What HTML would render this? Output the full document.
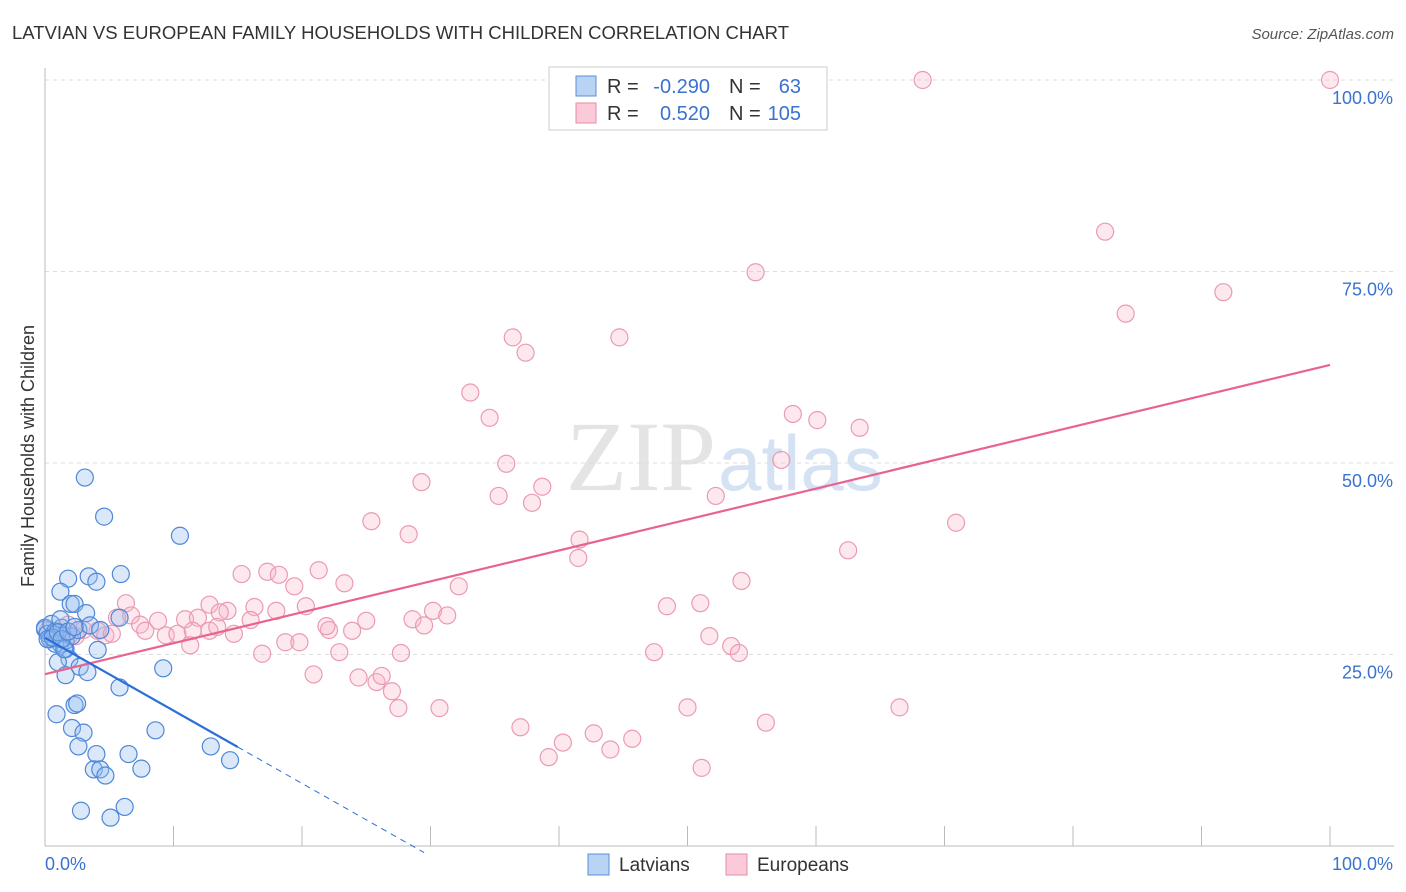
<!DOCTYPE html>
<html><head><meta charset="utf-8"><style>
body{margin:0;background:#fff;font-family:"Liberation Sans",sans-serif;}
svg{display:block}
</style></head><body>
<svg id="chart" width="1406" height="892">
<text x="12" y="39" font-size="18.5" fill="#333" textLength="777">LATVIAN VS EUROPEAN FAMILY HOUSEHOLDS WITH CHILDREN CORRELATION CHART</text>
<text x="1394" y="39" font-size="15" fill="#555" font-style="italic" text-anchor="end">Source: ZipAtlas.com</text>
<text x="716" y="490" font-size="100" fill="#e4e4e4" text-anchor="end" font-family="Liberation Serif">ZIP</text>
<text x="718" y="490" font-size="78" fill="#d4e2f4">atlas</text>
<g id="grid"></g>
<g id="axes"></g>
<g id="pts"></g>
<g id="lines"></g>
<text transform="translate(34,456) rotate(-90)" font-size="18" fill="#333" text-anchor="middle">Family Households with Children</text>
<g>
<rect x="549" y="67" width="278" height="63" fill="#fff" stroke="#ccc"/>
<rect x="576" y="76" width="20" height="20" fill="#b9d3f5" stroke="#5b8fd9"/>
<rect x="576" y="103" width="20" height="20" fill="#fbcad8" stroke="#e98aa8"/>
<text x="607" y="93" font-size="20" fill="#333">R =</text>
<text x="710" y="93" font-size="20" fill="#3a72d0" text-anchor="end">-0.290</text>
<text x="729" y="93" font-size="20" fill="#333">N =</text>
<text x="801" y="93" font-size="20" fill="#3a72d0" text-anchor="end">63</text>
<text x="607" y="120" font-size="20" fill="#333">R =</text>
<text x="710" y="120" font-size="20" fill="#3a72d0" text-anchor="end">0.520</text>
<text x="729" y="120" font-size="20" fill="#333">N =</text>
<text x="801" y="120" font-size="20" fill="#3a72d0" text-anchor="end">105</text>
</g>
<g>
<rect x="588" y="854" width="21" height="21" fill="#b9d3f5" stroke="#5b8fd9"/>
<text x="619" y="871" font-size="19" fill="#333">Latvians</text>
<rect x="726" y="854" width="21" height="21" fill="#fbcad8" stroke="#e98aa8"/>
<text x="757" y="871" font-size="19" fill="#333">Europeans</text>
</g>
</svg>
<script>
const yTicks=[25,50,75,100];
const xTickLabels=["0.0%","100.0%"];
const latX=[3.1,4.6,10.5,1.8,3.4,4.0,5.9,1.2,2.0,2.3,3.2,5.8,0,0.4,0.8,1.2,1.6,4.1,1.9,1.0,2.7,3.3,1.6,9.2,5.8,0.9,2.3,2.5,2.1,3.0,8.6,2.6,4.0,6.5,12.9,14.4,3.8,4.3,4.7,7.5,2.8,6.2,5.1,0,0.2,0.5,0.8,1.3,1.6,2.1,2.6,1.2,0.4,0.8,1.5,3.5,4.3,0.2,0.6,1.0,1.3,1.8,2.3];
const latY=[48.1,43,40.5,34.9,35.2,34.5,35.5,33.2,31.6,31.6,30.4,29.8,28.3,27,27.7,26.4,25.7,25.6,24.4,24,23.4,22.7,22.3,23.2,20.7,17.2,18.4,18.6,15.4,14.8,15.1,13,12,12,13,11.2,10,10,9.2,10.1,4.6,5.1,3.7,28.5,27.7,29,28,28.5,26.8,27.4,28.2,29.6,27,26.4,25.7,28.8,28.2,27,27.2,27.9,27,28,28.6];
const eurX=[68.3,100,82.5,55.3,91.7,84.1,36.4,44.7,37.4,33.1,34.6,35.9,29.3,38.7,35.3,37.9,52.2,57.3,58.2,60.1,63.4,25.4,28.3,41.6,41.5,70.9,62.5,15.3,17.3,18.2,21.3,23.3,19.4,32.2,54.2,12.8,14.2,18,16.3,30.2,31.3,28.6,29.5,48.4,51,6.3,6.7,5.6,8.8,10.9,11.9,13.6,16,20.3,22.1,25,21.9,23.9,7.4,7.8,9.4,10.3,11.5,12.8,13.4,14.7,4.1,4.7,5.2,3,2.4,1.9,1.2,0.6,0.2,1.8,11.3,18.7,19.8,51.7,53.4,54,47.4,16.9,22.9,27.7,20.9,24.4,25.8,26.2,27,27.5,30.7,50,66.5,56.1,37,42.7,45.7,40.3,44,39.2,51.1];
const eurY=[100,100,80.2,74.9,72.3,69.5,66.4,66.4,64.4,59.2,55.9,49.9,47.5,46.9,45.7,44.8,45.7,50.4,56.4,55.6,54.6,42.4,40.7,40,37.6,42.2,38.6,35.5,35.8,35.4,36,34.3,33.9,33.9,34.6,31.5,30.7,30.7,31.2,30.7,30.1,29.6,28.8,31.3,31.7,31.7,30.1,29.8,29.4,29.6,29.8,30.5,29.5,31.3,28.2,29.4,28.7,28.1,28.9,28.1,27.5,27.7,28.1,28.1,28.6,27.7,28.1,27.5,27.7,28.2,27.4,27.5,27.9,27.2,28.1,28.9,26.2,26.6,26.6,27.4,26.1,25.2,25.3,25.1,25.3,25.2,22.4,22,21.4,22.2,20.2,18,18,18.1,18.1,16.1,15.5,14.7,14,13.5,12.6,11.6,10.2];
const W0=45,W1=1330,H0=846,H1=80;
const sx=v=>W0+(W1-W0)*v/100, sy=v=>H0-(H0-H1)*v/100;
const NS="http://www.w3.org/2000/svg";
function mk(p,t,a){const e=document.createElementNS(NS,t);for(const k in a)e.setAttribute(k,a[k]);document.getElementById(p).appendChild(e);return e;}
for(const t of yTicks){
 const g=mk('grid','line',{x1:W0,x2:1394,y1:sy(t),y2:sy(t),stroke:'#ddd','stroke-dasharray':'4,4'});
 
 
 const l=mk('axes','text',{x:1393,y:sy(t)+24,'font-size':18,fill:'#3a72d0','text-anchor':'end'});
 l.textContent=t.toFixed(1)+'%';
 
 
}
const ax=mk('axes','line',{x1:W0,x2:W0,y1:68,y2:H0,stroke:'#bbb'});


const bx=mk('axes','line',{x1:W0,x2:1394,y1:H0,y2:H0,stroke:'#bbb'});


for(let i=1;i<=10;i++){const t=mk('axes','line',{x1:sx(i*10),x2:sx(i*10),y1:826,y2:H0,stroke:'#bbb'});
 
 }
const x0=mk('axes','text',{x:45,y:870,'font-size':18,fill:'#3a72d0'});x0.textContent=xTickLabels[0];


const x1=mk('axes','text',{x:1393,y:870,'font-size':18,fill:'#3a72d0','text-anchor':'end'});x1.textContent=xTickLabels[1];


eurX.forEach((v,i)=>{const c=mk('pts','circle',{cx:sx(v),cy:sy(eurY[i]),r:8.5,fill:'rgba(248,180,200,0.3)',stroke:'#eb9ab4','stroke-width':1.2});
 
 });
latX.forEach((v,i)=>{const c=mk('pts','circle',{cx:sx(v),cy:sy(latY[i]),r:8.5,fill:'rgba(150,190,240,0.35)',stroke:'#4f87d8','stroke-width':1.2});
 
 });
function fit(X,Y){const n=X.length,mx=X.reduce((a,b)=>a+b)/n,my=Y.reduce((a,b)=>a+b)/n;let sxy=0,sxx=0;X.forEach((x,i)=>{sxy+=(x-mx)*(Y[i]-my);sxx+=(x-mx)**2});const b=sxy/sxx;return [b,my-b*mx];}
const [be,ae]=fit(eurX,eurY);
const pl=mk('lines','line',{x1:sx(0),y1:sy(ae)-4,x2:sx(100),y2:sy(ae+be*100)+4,stroke:'#e8648f','stroke-width':2.2});


const [bl,al]=fit(latX,latY);
const xe=15,xd=29.5;
const bl1=mk('lines','line',{x1:sx(0),y1:sy(al),x2:sx(xe),y2:sy(al+bl*xe),stroke:'#2b6fd6','stroke-width':2.2});


const bl2=mk('lines','line',{x1:sx(xe),y1:sy(al+bl*xe),x2:sx(xd),y2:sy(al+bl*xd),stroke:'#2b6fd6','stroke-width':1,'stroke-dasharray':'6,5'});


</script>
</body></html>
